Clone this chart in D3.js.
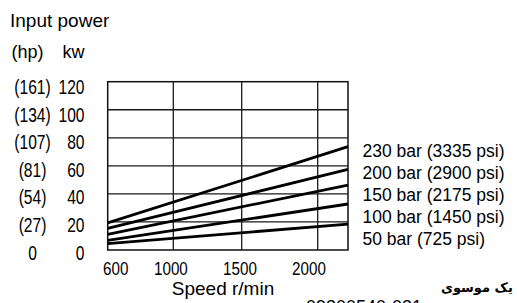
<!DOCTYPE html>
<html>
<head>
<meta charset="utf-8">
<script src="https://cdn.jsdelivr.net/npm/d3@7"></script>
<style>
  html, body { margin: 0; padding: 0; background: #fff; }
  svg { display: block; }
  .reg { font-family: "Liberation Sans", Arial, sans-serif; }
</style>
</head>
<body>
<svg id="chart" width="517" height="303"></svg>
<script>
// ---- data ----
const speedTicks = [600, 1000, 1500, 2000];
const speedDomain = [600, 2200];
const kwTicks = [0, 20, 40, 60, 80, 100, 120];
const hpLabels = ["0", "(27)", "(54)", "(81)", "(107)", "(134)", "(161)"];
const seriesNames = ["230 bar (3335 psi)", "200 bar (2900 psi)", "150 bar (2175 psi)", "100 bar (1450 psi)", "50 bar (725 psi)"];
const powerAt600 = [19.3, 15.4, 11.2, 6.8, 4.5];
const powerAt2200 = [73.7, 57.5, 46.3, 32.8, 18.5];

// ---- layout ----
const svg = d3.select("#chart");
const pLeft = 107.7, pRight = 348, pTop = 81.7, pBottom = 250;
const condense = 0.8;

// grid positions in reference are not evenly spaced: piecewise linear scale
const x = d3.scaleLinear()
  .domain([600, 1000, 1500, 2000, 2200])
  .range([pLeft, 173.3, 241.7, 317.7, pRight]);
const xLabel = d3.scaleLinear().domain([600, 2000]).range([115.7, 309]);
const y = d3.scaleLinear().domain([0, 120]).range([pBottom, pTop]);
const yLabel = d3.scaleLinear().domain([0, 120]).range([259.5, 94]);

// grid
const g = svg.append("g");
g.selectAll("line.v").data(speedTicks.slice(1)).join("line")
  .attr("x1", d => x(d)).attr("x2", d => x(d))
  .attr("y1", pTop).attr("y2", pBottom)
  .attr("stroke", "#1a1a1a").attr("stroke-width", 1.3);
g.selectAll("line.h").data(kwTicks.slice(1, -1)).join("line")
  .attr("x1", pLeft).attr("x2", pRight)
  .attr("y1", d => y(d)).attr("y2", d => y(d))
  .attr("stroke", "#1a1a1a").attr("stroke-width", 1.3);
g.append("rect")
  .attr("x", pLeft).attr("y", pTop)
  .attr("width", pRight - pLeft).attr("height", pBottom - pTop)
  .attr("fill", "none").attr("stroke", "#111").attr("stroke-width", 1.5);

// series lines
const line = d3.line().x(d => x(d[0])).y(d => y(d[1]));
seriesNames.forEach((name, i) => {
  svg.append("path")
    .datum([[speedDomain[0], powerAt600[i]], [speedDomain[1], powerAt2200[i]]])
    .attr("d", line)
    .attr("fill", "none")
    .attr("stroke", "#000")
    .attr("stroke-width", 2.8);
});

// legend labels
svg.selectAll("text.leg").data(seriesNames).join("text")
  .attr("class", "reg")
  .attr("x", 362.5)
  .attr("y", (d, i) => 157 + i * 22)
  .attr("font-size", 17.5)
  .attr("fill", "#000")
  .text(d => d);

// y tick labels (kw) - condensed
svg.selectAll("text.kw").data(kwTicks).join("text")
  .attr("class", "reg")
  .attr("transform", d => `translate(84.5,${yLabel(d)}) scale(${condense},1)`)
  .attr("text-anchor", "end")
  .attr("font-size", 19.5)
  .text(d => d);
// hp labels
svg.selectAll("text.hp").data(hpLabels).join("text")
  .attr("class", "reg")
  .attr("transform", (d, i) => `translate(32.5,${yLabel(kwTicks[i])}) scale(${condense},1)`)
  .attr("text-anchor", "middle")
  .attr("font-size", 19.5)
  .text(d => d);

// x tick labels
svg.selectAll("text.xt").data(speedTicks).join("text")
  .attr("class", "reg")
  .attr("transform", d => `translate(${xLabel(d)},274.5) scale(${condense},1)`)
  .attr("text-anchor", "middle")
  .attr("font-size", 19)
  .text(d => d);

// titles
svg.append("text").attr("class", "reg")
  .attr("x", 10).attr("y", 27).attr("font-size", 19)
  .text("Input power");
svg.append("text").attr("class", "reg")
  .attr("x", 11.5).attr("y", 58).attr("font-size", 18)
  .text("(hp)");
svg.append("text").attr("class", "reg")
  .attr("x", 62.5).attr("y", 58).attr("font-size", 18)
  .text("kw");
svg.append("text").attr("class", "reg")
  .attr("x", 223).attr("y", 295).attr("text-anchor", "middle").attr("font-size", 19)
  .text("Speed r/min");

// watermark text
svg.append("text")
  .attr("x", 441).attr("y", 292)
  .attr("font-family", "DejaVu Sans, sans-serif")
  .attr("font-weight", "bold")
  .attr("font-size", 13)
  .text("یک موسوی");
svg.append("text").attr("class", "reg")
  .attr("x", 306).attr("y", 313).attr("font-size", 18)
  .text("09300540-031");
</script>
</body>
</html>
